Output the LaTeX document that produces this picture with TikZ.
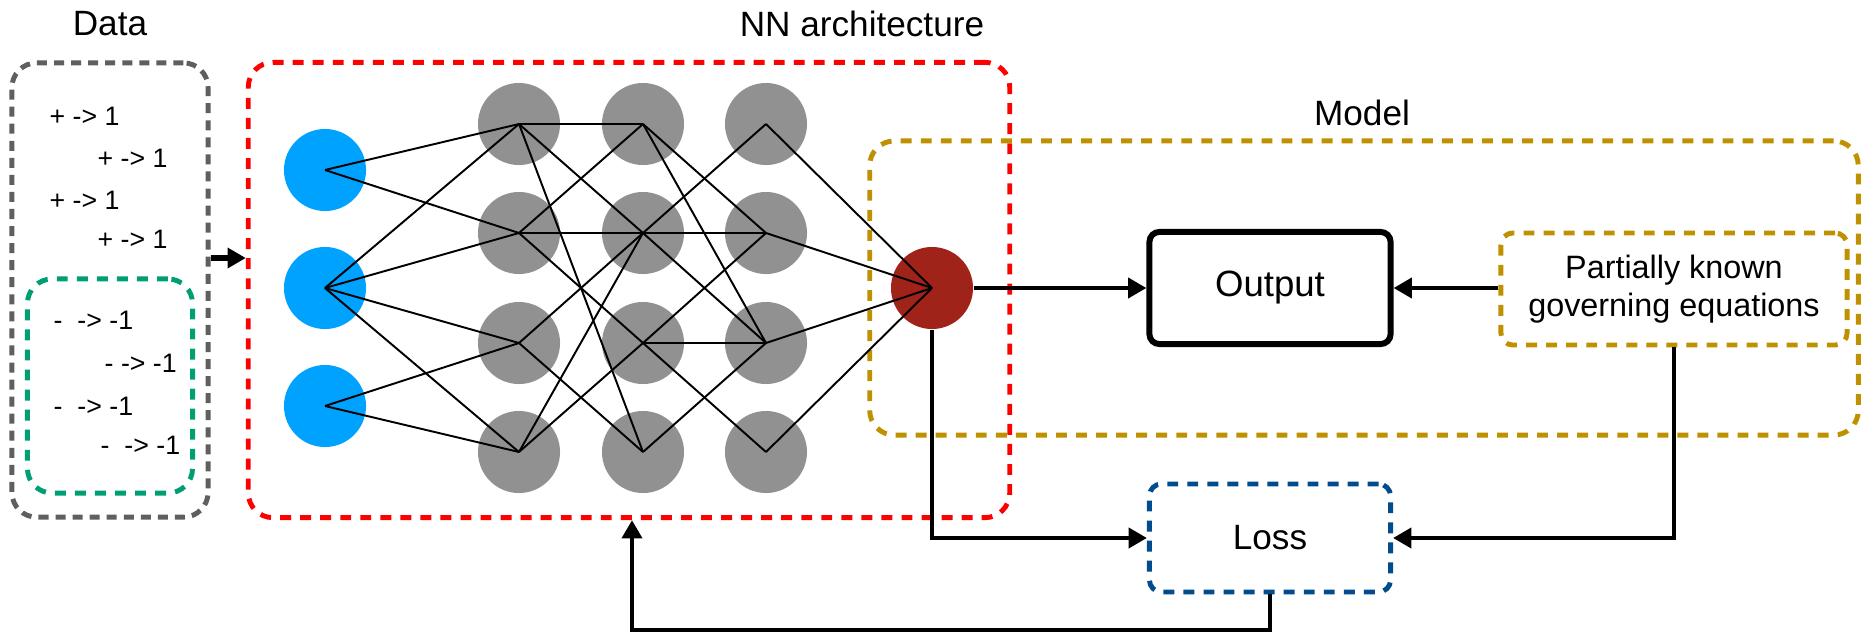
\documentclass[tikz,border=0pt]{standalone}
\usepackage{fontspec}
\setmainfont{Liberation Sans}
\usepackage{tikz}
\usetikzlibrary{arrows.meta,calc}
\usepackage{xcolor}
\definecolor{NodeBlue}{RGB}{0,162,255}
\definecolor{NodeGray}{RGB}{145,145,145}
\definecolor{NodeRed}{RGB}{160,35,25}
\definecolor{DataGray}{RGB}{95,95,95}
\definecolor{DataGreen}{RGB}{0,158,115}
\definecolor{ModelGold}{RGB}{191,145,0}
\definecolor{LossBlue}{RGB}{0,76,140}

\begin{document}
\begin{tikzpicture}[x=0.01cm, y=-0.01cm,
    grp/.style={rectangle, rounded corners=7pt, line width=1.4pt,
        dash pattern=on 3.1pt off 2.6pt, inner sep=0pt},
    outbox/.style={rectangle, rounded corners=2.8pt, draw=black, line width=1.7pt,
        inner sep=0pt, font=\fontsize{10.4}{12}\selectfont},
    neuron/.style={circle, minimum size=0.82cm, inner sep=0pt},
    link/.style={line width=0.55pt},
    conn/.style={-{Triangle[length=5.2pt, width=5.6pt]}, line width=1.4pt},
    title/.style={inner sep=0pt, font=\fontsize{10}{12}\selectfont},
    datatxt/.style={anchor=west, inner sep=0pt, font=\fontsize{7.6}{9}\selectfont},
]
\useasboundingbox (0,0) rectangle (1862,636);

% groups
\node[grp, draw=DataGray, dash pattern=on 2.85pt off 2pt,
    minimum width=1.96cm, minimum height=4.54cm] (data) at (110,290) {};
\node[grp, draw=DataGreen, minimum width=1.65cm, minimum height=2.14cm] (neg) at (110,386) {};
\node[grp, draw=red, minimum width=7.61cm, minimum height=4.55cm] (nn) at (629,290) {};
\node[grp, draw=ModelGold, minimum width=9.88cm, minimum height=2.94cm] (model) at (1364,288) {};

\node[title] (datatitle) at (110,24) {Data};
\node[title] (nntitle) at (862,24) {NN architecture};
\node[title] (modeltitle) at (1362,113) {Model};

% data samples
\node[datatxt] (p1) at (49,116) {+ -> 1};
\node[datatxt] (p2) at (97,158) {+ -> 1};
\node[datatxt] (p3) at (49,200) {+ -> 1};
\node[datatxt] (p4) at (97,239) {+ -> 1};
\node[datatxt] (n1) at (53,320) {-\ \ -> -1};
\node[datatxt] (n2) at (104,363) {- -> -1};
\node[datatxt] (n3) at (53,406) {-\ \ -> -1};
\node[datatxt] (n4) at (100,445) {-\ \ -> -1};

% network
\foreach \y [count=\k] in {170,288,406}
    \node[neuron, fill=NodeBlue] (i\k) at (325,\y) {};
\foreach \x/\c in {519/a,643/b,766/c}
    \foreach \y [count=\k] in {124,233,343,452}
        \node[neuron, fill=NodeGray] (\c\k) at (\x,\y) {};
\node[neuron, fill=NodeRed] (o) at (932,288) {};

\foreach \s/\t in {i1/a1,i1/a2,i2/a1,i2/a2,i2/a3,i2/a4,i3/a3,i3/a4,
        a1/b1,a1/b2,a1/b4,a2/b1,a2/b2,a2/b3,a3/b2,a3/b4,a4/b2,a4/b3,
        b1/c2,b1/c3,b2/c1,b2/c2,b2/c3,b3/c2,b3/c3,b3/c4,b4/c3,
        c1/o,c2/o,c3/o,c4/o}
    \draw[link] (\s.center) -- (\t.center);

% model and loss
\node[outbox, minimum width=2.41cm, minimum height=1.12cm] (output) at (1270,288) {Output};
\node[grp, rounded corners=3.4pt, draw=ModelGold, minimum width=3.46cm, minimum height=1.12cm,
    align=center, font=\fontsize{9.2}{11}\selectfont] (pk) at (1674,289) {Partially known\\governing equations};
\node[grp, rounded corners=3.4pt, draw=LossBlue, minimum width=2.41cm, minimum height=1.08cm,
    font=\fontsize{10}{12}\selectfont] (loss) at (1270,538) {Loss};

\coordinate (feed) at (0,258);
\coordinate (back) at (632,630);
\draw[conn, line width=1.8pt] (data.east |- feed) -- (nn.west |- feed);
\draw[conn] (o.east) -- (output.west);
\draw[conn] (pk.west |- output) -- (output.east);
\draw[conn] (o.south) |- (loss.west);
\draw[conn] (pk.south) |- (loss.east);
\draw[conn] (loss.south) |- (back) -- (back |- nn.south);
\end{tikzpicture}
\end{document}
